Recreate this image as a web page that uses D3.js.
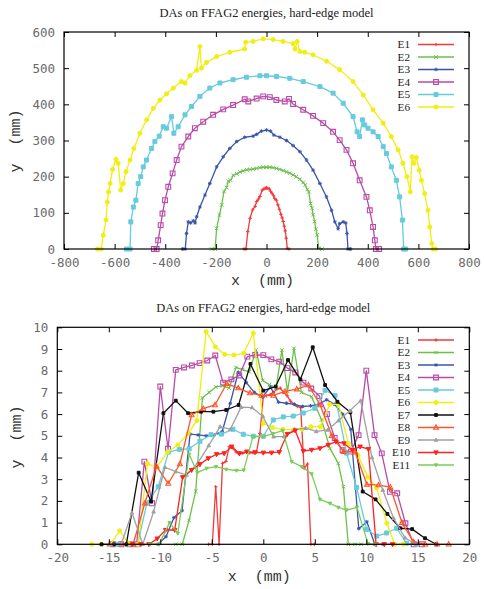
<!DOCTYPE html>
<html>
<head>
<meta charset="utf-8">
<script src="https://cdn.jsdelivr.net/npm/d3@7"></script>
<style>
  html, body { margin: 0; padding: 0; background: #fff; }
  svg { display: block; }
  text { white-space: pre; }
</style>
</head>
<body>
<svg id="chart" width="484" height="589"></svg>
<script>
// ---- Upper panel: aperture boundaries, x and y in mm ----
const topE1x = [-89,-81,-74,-65,-55,-45,-39,-32,-26,-17,-10,-5,0,5,11,16,22,28,32,39,45,51,57,62,66,70,74,78,82,89];
const topE1y = [0,0,48,85,108,118,131,138,145,163,166,168,169,168,166,160,154,147,140,135,122,110,96,86,76,63,50,30,2,0];

const topE2x = [-217,-203,-197,-186,-177,-168,-158,-151,-142,-131,-118,-105,-92,-78,-65,-53,-39,-26,-13,0,13,26,39,53,66,79,92,105,118,132,145,153,161,167,174,180,184,190,195,200,206,219];
const topE2y = [0,0,57,94,122,159,170,187,190,204,208,213,216,219,220,221,223,225,226,226,226,225,223,220,217,213,210,205,200,193,184,177,165,158,126,113,95,76,55,39,2,0];

const topE3x = [-332,-321,-316,-309,-300,-289,-282,-276,-263,-243,-224,-197,-171,-145,-118,-86,-53,-39,-20,0,16,29,53,79,105,132,158,184,211,237,257,270,283,289,303,313,318,322,332];
const topE3y = [0,0,43,75,72,78,72,89,116,149,181,227,255,278,297,309,312,317,326,329,326,315,309,300,286,269,246,218,181,144,107,75,56,70,75,72,43,0,0];

const topE4x = [-445,-434,-428,-418,-411,-401,-388,-371,-355,-336,-309,-283,-250,-211,-171,-132,-86,-72,-39,-13,13,39,72,89,105,145,184,224,263,289,316,342,368,395,408,421,428,432,445];
const topE4y = [0,0,24,66,98,135,172,209,246,283,311,334,352,371,386,398,414,408,416,422,420,412,408,415,401,385,368,348,324,301,274,237,190,144,107,61,24,0,0];

const topE5x = [-553,-539,-536,-526,-516,-507,-497,-487,-474,-454,-441,-424,-408,-395,-375,-366,-349,-322,-296,-263,-224,-184,-132,-79,-26,0,39,92,145,211,263,303,342,358,368,379,388,401,421,441,461,474,493,513,526,537,542,550];
const topE5y = [0,0,75,116,135,181,200,227,246,278,297,312,338,334,366,320,338,371,394,422,445,459,468,475,479,479,477,472,463,449,431,403,366,324,311,357,343,334,324,311,283,264,227,190,144,80,0,0];

const topE6x = [-668,-653,-645,-634,-629,-624,-618,-608,-595,-586,-576,-566,-555,-539,-524,-500,-474,-447,-421,-395,-368,-336,-322,-303,-276,-263,-257,-237,-197,-145,-86,-82,-53,-13,26,66,105,113,121,132,151,184,237,289,342,382,421,461,493,520,539,555,568,575,583,592,603,612,625,638,645,653,658,668];
const topE6y = [0,0,38,80,130,158,181,220,248,237,163,181,214,246,278,320,357,389,412,429,445,463,459,479,494,560,500,516,532,544,553,572,574,581,579,574,568,553,574,546,544,537,519,496,463,426,385,348,311,274,237,200,158,255,237,253,218,190,153,107,61,15,0,0];

// ---- Lower panel ----
const botE1x = [-5.3,-4.95,-4.62,-4.29,-3.96,-3.63,-3.3,-2.97,-2.64,-2.31,-1.98,-1.65,-1.32,-0.99,-0.66,-0.33,0,0.33,0.66,0.99,1.32,1.65,1.98,2.31,2.64,2.97,3.3,3.63,3.96,4.29,4.62,4.95];
const botE1y = [0,0,2.65,0,3.73,3.82,4.5,4.45,4.25,4.15,4.2,4.25,4.22,4.22,4.25,5.1,6.8,6.85,6.9,7.0,7.15,7.2,7.0,6.85,6.6,6.45,6.35,6.3,3.5,3.7,0,0];

const botE2x = [-8.5,-7.86,-7.21,-6.56,-5.91,-5.26,-4.61,-3.96,-3.31,-2.66,-2.01,-1.36,-0.71,-0.06,0.59,1.24,1.8,2.35,2.98,3.7,4.69,5.66,6.47,7.28,7.77,8.25,8.9,9.5];
const botE2y = [0,0,1.1,2.45,6.75,7.0,7.25,7.3,7.2,8.15,8.05,7.95,8.95,7.55,7.35,7.2,8.95,7.05,9.03,7.0,6.8,5.73,4.42,3.73,2.66,0,0,0];

const botE3x = [-11.01,-10.23,-9.45,-8.67,-7.89,-7.11,-6.33,-5.55,-4.77,-3.99,-3.21,-2.43,-1.65,-0.87,-0.09,0.69,1.47,2.25,3.03,3.81,4.59,5.37,6.15,6.93,7.71,8.49,9.27,10.05,10.83,11.61];
const botE3y = [0,0,0.35,1.23,1.55,5.08,5.04,5.0,5.04,5.2,6.5,7.93,7.45,7.0,6.78,7.25,6.55,6.5,6.45,6.35,6.38,6.45,6.66,6.45,6.0,5.3,0.72,1.04,0,0];

const botE4x = [-14.6,-13.8,-13.0,-12.3,-11.55,-10.8,-10.0,-9.25,-8.5,-7.7,-6.93,-6.18,-5.44,-4.66,-3.9,-3.1,-2.33,-1.55,-0.78,0,0.78,1.55,2.33,3.1,3.9,4.66,5.44,6.18,6.93,7.7,8.5,9.25,10.0,10.8,11.5,12.3,13.0,13.8,14.6,15.4];
const botE4y = [0,0,0,0,3.81,1.89,7.27,4.4,8.04,8.15,8.24,8.35,8.47,8.7,7.45,7.6,7.78,8.65,8.73,8.72,8.52,8.42,8.12,7.92,7.45,7.18,6.83,6.0,4.9,4.34,4.27,5.03,8.0,5.03,4.19,2.42,2.35,0.97,0,0];

const botE5x = [-14.2,-13.2,-12.2,-11.3,-10.2,-9.2,-8.15,-7.2,-6.15,-5.08,-4.06,-2.95,-1.94,-0.97,0,0.97,1.94,2.91,3.88,5.0,6.0,6.96,8.09,9.06,10.03,11.0,11.97,12.94,13.9,14.9];
const botE5y = [0,0,0,1.9,2.65,4.25,4.38,4.4,4.75,5.05,5.08,5.3,5.07,4.98,4.98,5.73,5.87,5.91,6.05,6.27,7.1,6.85,4.2,2.62,0.69,0.38,0.52,0.74,0.05,0];

const botE6x = [-16.65,-15.75,-14.85,-13.95,-13.05,-12.15,-11.25,-10.35,-9.3,-8.3,-7.3,-6.45,-5.55,-4.65,-3.75,-2.85,-1.9,-0.97,0,0.9,1.9,2.9,3.75,4.65,5.55,6.45,7.3,8.25,9.2,10.15,11.0,12.0,12.75,13.6];
const botE6y = [0,0,0,0.62,0.03,0,3.72,3.55,4.25,4.58,5.1,5.7,9.8,9.1,8.75,8.72,8.8,9.73,5.57,5.38,5.3,5.27,5.3,5.42,5.42,6.45,6.45,4.65,4.1,3.1,2.6,0.97,0,0];

const botE7x = [-15.7,-14.5,-13.3,-12.1,-10.9,-9.7,-8.5,-7.3,-6.05,-4.85,-3.6,-2.4,-1.25,0,1.2,2.4,3.6,4.8,6.0,7.2,8.45,9.65,10.9,12.05,13.3,14.45,15.7,16.8];
const botE7y = [0,0,0,3.3,1.97,6.04,6.62,6.04,6.11,6.11,6.19,6.42,8.31,7.08,7.27,8.49,7.6,9.08,7.34,6.57,6.08,2.43,2.07,1.4,0.74,0.7,0.28,0];

const botE8x = [-14.9,-13.77,-12.64,-11.5,-10.37,-9.23,-8.1,-6.96,-5.83,-4.69,-3.56,-2.43,-1.29,-0.16,0.98,2.11,3.25,4.38,5.52,6.65,7.79,8.92,10.06,11.19,12.33,13.46,14.6,15.73,16.87,18.0];
const botE8y = [0,0,0,1.89,3.6,2.8,3.7,5.96,6.25,6.42,7.4,7.2,6.97,6.86,6.86,7.05,7.15,7.34,6.42,5.0,4.27,4.25,2.76,2.73,2.63,1.0,0.1,0,0,0];

const botE9x = [-14.85,-13.8,-12.75,-11.7,-10.65,-9.55,-8.5,-7.45,-6.35,-5.3,-4.2,-3.2,-2.15,-1.1,-0.05,1.0,2.0,3.05,4.1,5.15,6.25,7.3,8.4,9.45,10.55,11.6,12.65,13.75,14.8];
const botE9y = [0,0,1.45,0,1.5,3.55,3.35,3.2,3.75,4.55,5.42,5.3,6.32,6.3,5.9,4.96,4.96,5.3,5.35,5.2,5.27,5.7,6.15,6.62,4.0,2.5,1.2,0.3,0];

const botE10x = [-12.7,-11.9,-11.1,-10.3,-9.48,-8.6,-7.83,-6.96,-6.15,-5.34,-4.53,-3.8,-3.07,-2.33,-1.6,-0.8,0,0.8,1.55,2.33,3.1,3.88,4.69,5.5,6.3,7.06,7.83,8.64,9.4,10.2,10.95,11.75,12.55];
const botE10y = [0,0,0,0.26,0.66,0.66,3.09,3.42,3.69,3.96,4.15,4.19,4.5,4.19,4.27,4.24,4.22,4.22,4.25,5.08,5.24,4.3,4.35,4.42,4.58,4.73,4.65,4.35,4.5,4.39,0,0,0];

const botE11x = [-11.0,-10.1,-9.1,-8.3,-7.2,-6.4,-5.5,-4.6,-3.6,-2.6,-1.9,-1.0,0,0.95,1.88,2.75,3.72,4.69,5.5,6.47,7.28,8.09,9.1,10.15,10.9];
const botE11y = [0,0,1.0,0.5,4.15,3.3,3.5,3.58,3.45,3.4,3.42,4.96,4.96,5.1,5.24,3.81,3.58,3.24,2.07,1.89,1.7,1.58,1.7,0.03,0];

const seriesNames = ["E1","E2","E3","E4","E5","E6","E7","E8","E9","E10","E11"];
const seriesColors = ["#f23a3a","#6cc04a","#3b55a8","#b94ba8","#66cbdc","#f2ee10","#111111","#ff5428","#a0a0a0","#ff2020","#7ccc5a"];
const seriesMarks = ["plus","cross","star","sqOpen","sqFill","circFill","dot","triOpen","triFill","itriFill","itriSmall"];

const topXTicks = [-800,-600,-400,-200,0,200,400,600,800];
const topYTicks = [0,100,200,300,400,500,600];
const botXTicks = [-20,-15,-10,-5,0,5,10,15,20];
const botYTicks = [0,1,2,3,4,5,6,7,8,9,10];
const titleText = "DAs on FFAG2 energies, hard-edge model";

const topData = [[topE1x,topE1y],[topE2x,topE2y],[topE3x,topE3y],[topE4x,topE4y],[topE5x,topE5y],[topE6x,topE6y]];
const botData = [[botE1x,botE1y],[botE2x,botE2y],[botE3x,botE3y],[botE4x,botE4y],[botE5x,botE5y],[botE6x,botE6y],
                 [botE7x,botE7y],[botE8x,botE8y],[botE9x,botE9y],[botE10x,botE10y],[botE11x,botE11y]];

const svg = d3.select("#chart");
svg.append("rect").attr("width",484).attr("height",589).attr("fill","#fff");

// point glyphs in the style of gnuplot point types
function markPath(kind, r) {
  switch (kind) {
    case "plus": return `M${-r},0H${r}M0,${-r}V${r}`;
    case "cross": return `M${-r},${-r}L${r},${r}M${-r},${r}L${r},${-r}`;
    case "star": return `M${-r},0H${r}M0,${-r}V${r}M${-r*0.7},${-r*0.7}L${r*0.7},${r*0.7}M${-r*0.7},${r*0.7}L${r*0.7},${-r*0.7}`;
    case "sqOpen": case "sqFill": case "dot":
      return `M${-r},${-r}H${r}V${r}H${-r}Z`;
    case "circFill": return `M${r},0A${r},${r} 0 1,1 ${-r},0A${r},${r} 0 1,1 ${r},0Z`;
    case "triOpen": case "triFill":
      return `M0,${-r*1.2}L${r*1.1},${r*0.8}L${-r*1.1},${r*0.8}Z`;
    case "itriFill": case "itriSmall":
      return `M0,${r*1.2}L${r*1.1},${-r*0.8}L${-r*1.1},${-r*0.8}Z`;
  }
}
const markSize = {plus:1.8, cross:1.8, star:1.8, sqOpen:2.4, sqFill:2, circFill:2, dot:1.4, triOpen:2.2, triFill:1.6, itriFill:2, itriSmall:1.5};
function markStyle(sel, kind, color) {
  const filled = ["sqFill","circFill","dot","triFill","itriFill","itriSmall","star"].includes(kind);
  const open = ["sqOpen","triOpen"].includes(kind);
  sel.attr("fill", filled ? color : "none")
     .attr("stroke", color)
     .attr("stroke-width", open ? 1.1 : 1);
}

function panel(cfg) {
  const {x, y, xTicks, yTicks, data, names, titleY, xLabelY, yLabelCx, yLabelCy, legendX, legendY0} = cfg;
  const [x0, x1] = x.range();
  const [y0, y1] = y.range();
  const g = svg.append("g");

  // series: line through the points, then the point glyphs
  data.forEach((d, i) => {
    const pts = d[0].map((v, k) => [v, d[1][k]]);
    const color = seriesColors[i], kind = seriesMarks[i];
    g.append("path")
      .datum(pts)
      .attr("fill","none")
      .attr("stroke", color)
      .attr("stroke-width", 1.3)
      .attr("stroke-linejoin","round")
      .attr("d", d3.line().x(p => x(p[0])).y(p => y(p[1])));
    const m = g.append("g");
    m.selectAll("path").data(pts).join("path")
      .attr("transform", p => `translate(${x(p[0])},${y(p[1])})`)
      .attr("d", markPath(kind, markSize[kind]))
      .call(markStyle, kind, color);
  });

  const fmt = d => String(d);
  const tickFont = s => s.selectAll("text")
      .attr("font-family","'DejaVu Sans Mono', monospace")
      .attr("font-size", 12.5)
      .attr("fill","#6a6a6a");

  // axes with inward ticks, mirrored on the opposite sides
  const ax = svg.append("g").attr("transform",`translate(0,${y0})`)
    .call(d3.axisBottom(x).tickValues(xTicks).tickFormat(fmt).tickSizeInner(-5).tickSizeOuter(0).tickPadding(9));
  ax.call(tickFont);
  const ay = svg.append("g").attr("transform",`translate(${x0},0)`)
    .call(d3.axisLeft(y).tickValues(yTicks).tickFormat(fmt).tickSizeInner(-5).tickSizeOuter(0).tickPadding(9));
  ay.call(tickFont);
  svg.append("g").attr("transform",`translate(0,${y1})`)
    .call(d3.axisTop(x).tickValues(xTicks).tickFormat("").tickSizeInner(-5).tickSizeOuter(0));
  svg.append("g").attr("transform",`translate(${x1},0)`)
    .call(d3.axisRight(y).tickValues(yTicks).tickFormat("").tickSizeInner(-5).tickSizeOuter(0));
  svg.selectAll(".domain").remove();
  svg.selectAll(".tick line").attr("stroke","#000");
  svg.append("rect")
    .attr("x", x0).attr("y", y1).attr("width", x1 - x0).attr("height", y0 - y1)
    .attr("fill","none").attr("stroke","#000").attr("stroke-width",1.2);

  // title and axis labels
  svg.append("text").attr("x", (x0 + x1) / 2).attr("y", titleY)
    .attr("text-anchor","middle")
    .attr("font-family","'Liberation Serif', serif").attr("font-size",12.5).attr("fill","#222")
    .text(titleText);
  svg.append("text").attr("x", (x0 + x1) / 2 - 4).attr("y", xLabelY)
    .attr("text-anchor","middle")
    .attr("font-family","'Liberation Mono', monospace").attr("font-size",15).attr("fill","#333")
    .text("x  (mm)");
  svg.append("text")
    .attr("transform",`translate(${yLabelCx},${yLabelCy}) rotate(-90)`)
    .attr("text-anchor","middle").attr("dy","0.35em")
    .attr("font-family","'Liberation Mono', monospace").attr("font-size",15).attr("fill","#333")
    .text("y  (mm)");

  // legend: entries 12.5 px apart, so the text stays compact
  names.forEach((name, i) => {
    const ly = legendY0 + i * 12.5;
    svg.append("text").attr("x", legendX).attr("y", ly).attr("dy","0.35em")
      .attr("text-anchor","end")
      .attr("font-family","'Liberation Serif', serif").attr("font-size",11.2).attr("fill","#222")
      .text(name);
    const color = seriesColors[i], kind = seriesMarks[i];
    svg.append("line").attr("x1", legendX + 8).attr("x2", legendX + 44).attr("y1", ly).attr("y2", ly)
      .attr("stroke", color).attr("stroke-width", 1.6);
    svg.append("path").attr("transform",`translate(${legendX + 26},${ly})`)
      .attr("d", markPath(kind, markSize[kind]))
      .call(markStyle, kind, color);
  });
}

panel({
  x: d3.scaleLinear().domain([-800,800]).range([64,469]),
  y: d3.scaleLinear().domain([0,600]).range([249,32]),
  xTicks: topXTicks, yTicks: topYTicks, data: topData, names: seriesNames.slice(0,6),
  titleY: 17, xLabelY: 285, yLabelCx: 15, yLabelCy: 141,
  legendX: 410, legendY0: 44.5
});

panel({
  x: d3.scaleLinear().domain([-20,20]).range([57.3,469.3]),
  y: d3.scaleLinear().domain([0,10]).range([544.3,327.3]),
  xTicks: botXTicks, yTicks: botYTicks, data: botData, names: seriesNames,
  titleY: 312, xLabelY: 581, yLabelCx: 16, yLabelCy: 437,
  legendX: 410, legendY0: 340
});
</script>
</body>
</html>
